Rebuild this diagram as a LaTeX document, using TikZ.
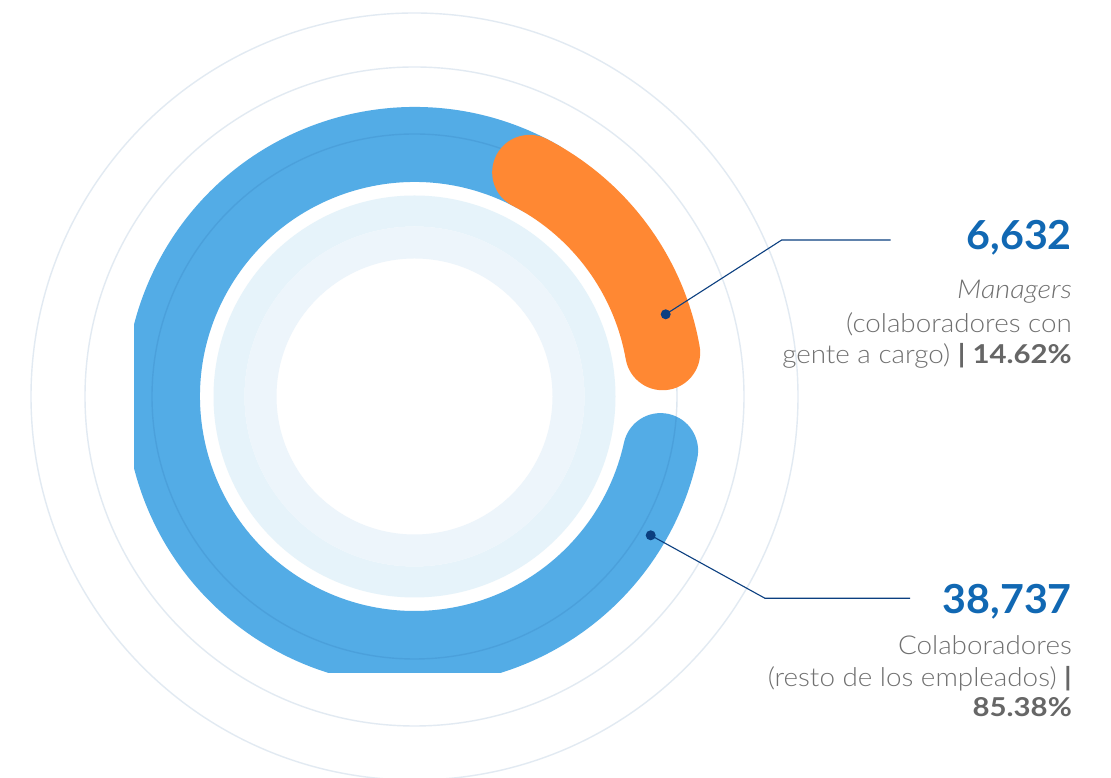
\documentclass[tikz,border=0pt]{standalone}
\usepackage{fontspec}
\setmainfont{Lato}[UprightFont=* Light, BoldFont=* Bold, ItalicFont=* Light Italic, BoldItalicFont=* Bold Italic,
  UprightFeatures={FakeStretch=1.07}, ItalicFeatures={FakeStretch=1.11}, BoldFeatures={FakeStretch=1.13}]
\newfontfamily\numfont{Lato Bold}[FakeStretch=1.03]
\definecolor{bandblue}{HTML}{53ACE6}
\definecolor{bandorange}{HTML}{FF8833}
\definecolor{faint}{HTML}{1F5F9F}
\definecolor{ringout}{HTML}{E6F3FA}
\definecolor{ringin}{HTML}{EDF5FB}
\definecolor{numblue}{HTML}{1168B3}
\definecolor{txtgray}{HTML}{707070}
\definecolor{boldgray}{HTML}{666666}
\definecolor{navy}{HTML}{0B3F80}
\tikzset{
  band/.style={line width=75pt, line cap=round},
  guide/.style={draw=faint, draw opacity=0.13, line width=1.4pt},
  dotmark/.style={circle, fill=navy, inner sep=0pt, minimum size=10pt},
  leader/.style={draw=navy, line width=1.1pt},
  numtext/.style={anchor=base east, inner sep=0pt, text=numblue, font=\fontsize{40}{40}\selectfont\numfont},
  bodytext/.style={anchor=base east, inner sep=0pt, text=txtgray, font=\fontsize{26}{26}\selectfont},
}
\begin{document}
\begin{tikzpicture}[x=1pt,y=1pt]
\useasboundingbox (0,0) rectangle (1111,778);
\fill[white] (0,0) rectangle (1111,778);
\coordinate (c) at (414.5,381.5);
% light inner rings
\fill[ringout, even odd rule] (c) circle[radius=201] (c) circle[radius=170];
\fill[ringin, even odd rule] (c) circle[radius=170] (c) circle[radius=138];
% outer guide circles
\draw[guide] (c) circle[radius=383.5];
\draw[guide] (c) circle[radius=329.5];
% blue band, clipped
\begin{scope}
  \clip (134,105) rectangle (1111,778);
  \draw[band, bandblue] (c) ++(-300:252) arc[start angle=-300, end angle=-12.4, radius=252];
\end{scope}
\draw[guide, draw opacity=0.15] (c) circle[radius=262.5];
% orange band
\draw[band, bandorange] (c) ++(62.8:252) arc[start angle=62.8, end angle=10, radius=252];
% dots and leaders
\node[dotmark] (d1) at (665.7,463.7) {};
\coordinate (e1) at (781.7,538);
\coordinate (f1) at (890.7,538);
\draw[leader] (d1.center) -- (e1) -- (f1);
\node[dotmark] (d2) at (650.7,242.7) {};
\coordinate (e2) at (765,179.7);
\coordinate (f2) at (910,179.7);
\draw[leader] (d2.center) -- (e2) -- (f2);
% texts
\node[numtext] (n1) at (1072,528.7) {6,632};
\node[bodytext] (t1a) at (1072,479) {\itshape Managers};
\node[bodytext] (t1b) at (1072,445.7) {(colaboradores con};
\node[bodytext] (t1c) at (1072,414.7) {gente a cargo) \textcolor{boldgray}{\bfseries| 14.62\%}};
\node[numtext] (n2) at (1072,164.7) {38,737};
\node[bodytext] (t2a) at (1072,123.7) {Colaboradores};
\node[bodytext] (t2b) at (1072,91.3) {(resto de los empleados) \textcolor{boldgray}{\bfseries|}};
\node[bodytext] (t2c) at (1072,61.3) {\textcolor{boldgray}{\bfseries 85.38\%}};
\end{tikzpicture}
\end{document}
